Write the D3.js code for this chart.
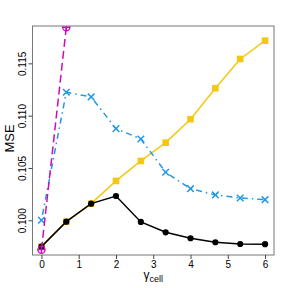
<!DOCTYPE html>
<html><head><meta charset="utf-8">
<script src="https://cdn.jsdelivr.net/npm/d3@7"></script>
<style>body{margin:0;background:#fff}svg{display:block}</style>
</head><body>
<script>
const gammas = [0, 0.667, 1.333, 2, 2.667, 3.333, 4, 4.667, 5.333, 6];
const seriesBlack = [0.09748, 0.09987, 0.10159, 0.10232, 0.09984, 0.09885, 0.09828, 0.09790, 0.09773, 0.09771];
const seriesYellow = [0.09748, 0.09987, 0.10159, 0.10376, 0.10567, 0.10742, 0.10966, 0.11262, 0.11542, 0.11717];
const seriesBlue = [0.10000, 0.11224, 0.11179, 0.10876, 0.10777, 0.10459, 0.10302, 0.10242, 0.10213, 0.10197];
const seriesMagenta = [0.09719, 0.11845];
const xTicks = [0, 1, 2, 3, 4, 5, 6];
const yTicks = [0.100, 0.105, 0.110, 0.115];

const W = 288, H = 288;
const L = 32.5, R = 274, T = 26, B = 255;
const svg = d3.select("body").append("svg").attr("width", W).attr("height", H);
const x = d3.scaleLinear().domain([-0.24, 6.24]).range([L, R]);
const y = d3.scaleLinear().domain([0.09668, 0.11857]).range([B, T]);

svg.append("defs").append("clipPath").attr("id", "clip")
  .append("rect").attr("x", L).attr("y", T).attr("width", R - L).attr("height", B - T);

const g = svg.append("g").attr("clip-path", "url(#clip)");
const line = d3.line().x(d => x(d[0])).y(d => y(d[1]));
const pts = vals => vals.map((v, i) => [gammas[i], v]);

// yellow
g.append("path").datum(pts(seriesYellow)).attr("d", line).attr("fill", "none")
  .attr("stroke", "#F5C710").attr("stroke-width", 1.5);
g.selectAll(".ys").data(pts(seriesYellow)).enter().append("rect")
  .attr("x", d => x(d[0]) - 3.3).attr("y", d => y(d[1]) - 3.3).attr("width", 6.6).attr("height", 6.6)
  .attr("fill", "#F5C710");

// blue
g.append("path").datum(pts(seriesBlue)).attr("d", line).attr("fill", "none")
  .attr("stroke", "#2297E6").attr("stroke-width", 1.5).attr("stroke-dasharray", "1.5,4,6,4");
g.selectAll(".bx").data(pts(seriesBlue)).enter().append("path")
  .attr("d", d => { const cx = x(d[0]), cy = y(d[1]), s = 3.3;
    return `M${cx-s},${cy-s}L${cx+s},${cy+s}M${cx-s},${cy+s}L${cx+s},${cy-s}`; })
  .attr("stroke", "#2297E6").attr("stroke-width", 1.5).attr("fill", "none");

// black
g.append("path").datum(pts(seriesBlack)).attr("d", line).attr("fill", "none")
  .attr("stroke", "#000").attr("stroke-width", 1.5);
g.selectAll(".bc").data(pts(seriesBlack)).enter().append("circle")
  .attr("cx", d => x(d[0])).attr("cy", d => y(d[1])).attr("r", 3.1).attr("fill", "#000");

// magenta
g.append("path").datum(pts(seriesMagenta)).attr("d", line).attr("fill", "none")
  .attr("stroke", "#CD0BBC").attr("stroke-width", 1.5).attr("stroke-dasharray", "8,4");
const mg = g.selectAll(".mg").data(pts(seriesMagenta)).enter().append("g");
mg.append("circle").attr("cx", d => x(d[0])).attr("cy", d => y(d[1])).attr("r", 3.6)
  .attr("fill", "none").attr("stroke", "#CD0BBC").attr("stroke-width", 1.3);
mg.append("path").attr("d", d => { const cx = x(d[0]), cy = y(d[1]), s = 3.6;
    return `M${cx-s},${cy}L${cx+s},${cy}M${cx},${cy-s}L${cx},${cy+s}`; })
  .attr("stroke", "#CD0BBC").attr("stroke-width", 1.3);

// box
svg.append("rect").attr("x", L).attr("y", T).attr("width", R - L).attr("height", B - T)
  .attr("fill", "none").attr("stroke", "#777").attr("stroke-width", 1);

// axes
const xa = svg.append("g").attr("transform", `translate(0,${B})`)
  .call(d3.axisBottom(x).tickValues(xTicks).tickSize(4).tickPadding(2).tickFormat(d3.format("d")));
xa.select(".domain").remove();
xa.selectAll("text").attr("font-family", "Liberation Sans, Arial, sans-serif").attr("font-size", 10).attr("fill", "#000");
xa.selectAll("line").attr("stroke", "#444");

const ya = svg.append("g").attr("transform", `translate(${L},0)`)
  .call(d3.axisLeft(y).tickValues(yTicks).tickSize(4).tickFormat(d3.format(".3f")));
ya.select(".domain").remove();
ya.selectAll("line").attr("stroke", "#444");
ya.selectAll("text").attr("font-family", "Liberation Sans, Arial, sans-serif").attr("font-size", 10).attr("fill", "#000")
  .attr("text-anchor", "middle").attr("x", null).attr("dy", null)
  .attr("transform", d => `translate(-10,0) rotate(-90)`).attr("y", 0).attr("dy", "0.35em");

// labels
svg.append("text").attr("transform", `translate(9,${(T + B) / 2 - 2}) rotate(-90)`)
  .attr("text-anchor", "middle").attr("dy", "0.35em").attr("font-family", "Liberation Sans, Arial, sans-serif")
  .attr("font-size", 13).text("MSE");
const xl = svg.append("text").attr("x", (L + R) / 2).attr("y", 279).attr("text-anchor", "middle")
  .attr("font-family", "Liberation Sans, Arial, sans-serif").attr("font-size", 12);
xl.append("tspan").text("γ");
xl.append("tspan").attr("font-size", 9).attr("dy", 3).text("cell");
</script>
</body></html>
